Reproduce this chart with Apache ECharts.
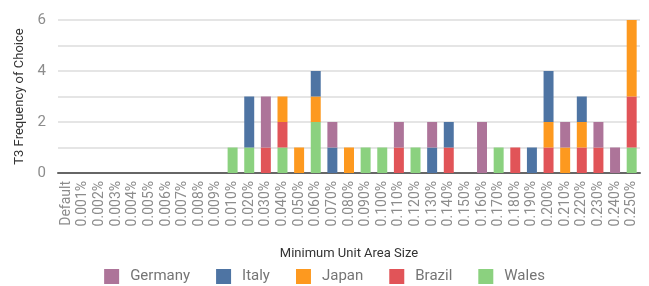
<!DOCTYPE html>
<html>
<head>
<meta charset="utf-8">
<script src="https://cdn.jsdelivr.net/npm/echarts@6/dist/echarts.min.js"></script>
<style>
  html, body { margin: 0; padding: 0; background: #fff; }
  #chart { width: 649px; height: 286px; }
</style>
</head>
<body>
<div id="chart"></div>
<script>
// categories
var categories = ['Default', '0.001%', '0.002%', '0.003%', '0.004%', '0.005%', '0.006%', '0.007%', '0.008%', '0.009%',
  '0.010%', '0.020%', '0.030%', '0.040%', '0.050%', '0.060%', '0.070%', '0.080%', '0.090%', '0.100%',
  '0.110%', '0.120%', '0.130%', '0.140%', '0.150%', '0.160%', '0.170%', '0.180%', '0.190%', '0.200%',
  '0.210%', '0.220%', '0.230%', '0.240%', '0.250%'];

// series values (one per category)
var wales   = [0,0,0,0,0,0,0,0,0,0, 1,1,0,1,0,2,0,0,1,1, 0,1,0,0,0,0,1,0,0,0, 0,0,0,0,1];
var brazil  = [0,0,0,0,0,0,0,0,0,0, 0,0,1,1,0,0,0,0,0,0, 1,0,0,1,0,0,0,1,0,1, 0,1,1,0,2];
var japan   = [0,0,0,0,0,0,0,0,0,0, 0,0,0,1,1,1,0,1,0,0, 0,0,0,0,0,0,0,0,0,1, 1,1,0,0,3];
var italy   = [0,0,0,0,0,0,0,0,0,0, 0,2,0,0,0,1,1,0,0,0, 0,0,1,1,0,0,0,0,1,2, 0,1,0,0,0];
var germany = [0,0,0,0,0,0,0,0,0,0, 0,0,2,0,0,0,1,0,0,0, 1,0,1,0,0,2,0,0,0,0, 1,0,1,1,0];

var yTicks = [0, 2, 4, 6];

var chart = echarts.init(document.getElementById('chart'));
var grayText = '#8c8c8c';
var font = 'Roboto, "Noto Sans", sans-serif';

function bar(name, data, color) {
  return {
    name: name,
    type: 'bar',
    stack: 'total',
    barWidth: '60%',
    data: data,
    itemStyle: { color: color }
  };
}

var option = {
  animation: false,
  textStyle: { fontFamily: font },
  grid: { left: 58, right: 9, top: 20, bottom: 113 },
  legend: {
    top: 264,
    left: 'center',
    itemWidth: 15,
    itemHeight: 15,
    itemGap: 26,
    icon: 'rect',
    textStyle: { color: '#757575', fontSize: 15, fontFamily: font, padding: [0, 0, 0, 6] },
    data: ['Germany', 'Italy', 'Japan', 'Brazil', 'Wales']
  },
  xAxis: {
    type: 'category',
    data: categories,
    name: 'Minimum Unit Area Size',
    nameLocation: 'middle',
    nameGap: 74,
    nameTextStyle: { color: '#333', fontSize: 13 },
    axisLine: { lineStyle: { color: '#666', width: 2 } },
    axisTick: { show: false },
    axisLabel: {
      interval: 0,
      rotate: 90,
      color: grayText,
      fontSize: 14,
      margin: 8
    }
  },
  yAxis: {
    type: 'value',
    min: 0,
    max: 6,
    interval: 1,
    name: 'T3 Frequency of Choice',
    nameLocation: 'middle',
    nameGap: 32,
    nameTextStyle: { color: '#333', fontSize: 13 },
    axisLine: { show: false },
    axisTick: { show: false },
    axisLabel: {
      color: grayText,
      fontSize: 15,
      margin: 12,
      formatter: function (v) { return yTicks.indexOf(v) >= 0 ? v : ''; }
    },
    splitLine: { lineStyle: { color: '#dcdcdc', width: 1.5 } }
  },
  series: [
    bar('Wales', wales, '#8bd17f'),
    bar('Brazil', brazil, '#e15458'),
    bar('Japan', japan, '#fd991f'),
    bar('Italy', italy, '#4e74a3'),
    bar('Germany', germany, '#ad7499')
  ]
};
chart.setOption(option, true);
</script>
</body>
</html>
